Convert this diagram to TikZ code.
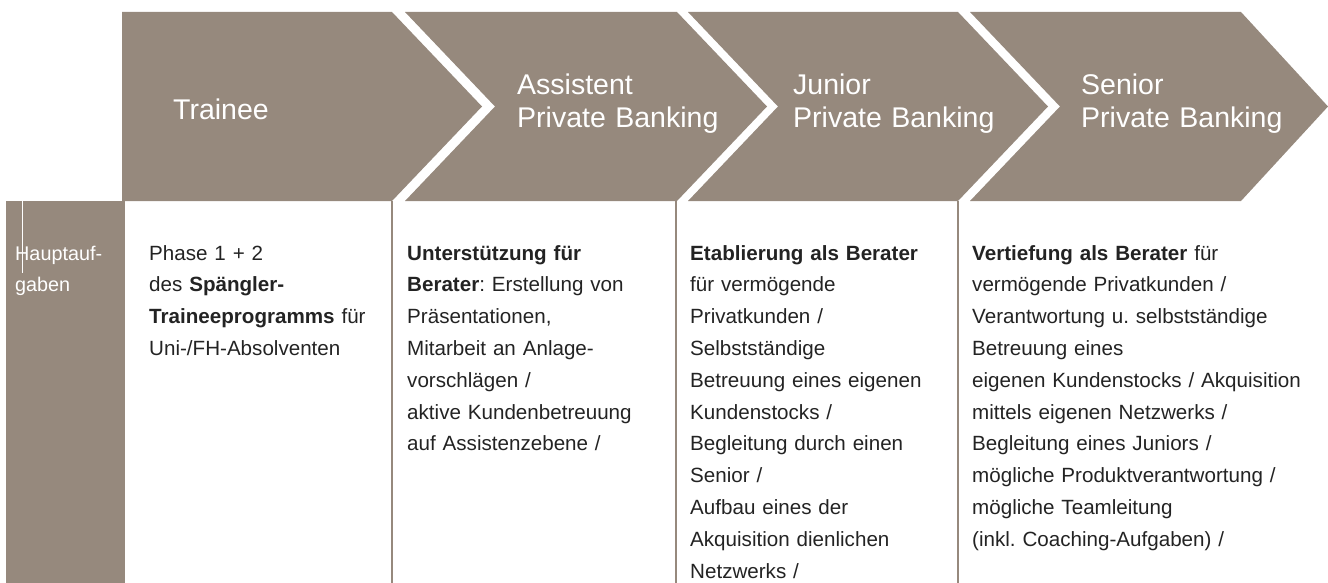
\documentclass[tikz,border=0pt]{standalone}
\usepackage{fontspec}
\setmainfont{Liberation Sans}
\frenchspacing
\definecolor{brn}{RGB}{150,137,125}
\definecolor{txt}{RGB}{35,35,35}
\begin{document}
\begin{tikzpicture}[x=1pt,y=-1pt,
  band/.style={fill=brn},
  vline/.style={draw=brn,line width=1.6pt},
  head/.style={anchor=base west,inner sep=0pt,text=white,align=left,text width=260pt,font=\fontsize{28.5}{33}\selectfont},
  body/.style={anchor=base west,inner sep=0pt,text=txt,align=left,font=\fontsize{20.6}{31.8}\selectfont},
  side/.style={anchor=base west,inner sep=0pt,text=white,align=left,text width=110pt,font=\fontsize{19.8}{31.8}\selectfont}]
\useasboundingbox (0,0) rectangle (1328,583);
% chevron band
\fill[band] (122,12) -- (392,12) -- (482,106.5) -- (392,201) -- (122,201) -- cycle;
\fill[band] (405,12) -- (677,12) -- (767,106.5) -- (677,201) -- (405,201) -- (495,106.5) -- cycle;
\fill[band] (688,12) -- (958,12) -- (1048,106.5) -- (958,201) -- (688,201) -- (778,106.5) -- cycle;
\fill[band] (970,12) -- (1241,12) -- (1328,106.5) -- (1241,201) -- (970,201) -- (1060,106.5) -- cycle;
% left column
\fill[band] (6,201) rectangle (125,583);
\draw[white,line width=0.8pt] (22,201) -- (22,273);
% separators
\coordinate (s1t) at (392,201); \coordinate (s1b) at (392,583);
\coordinate (s2t) at (676,201); \coordinate (s2b) at (676,583);
\coordinate (s3t) at (958,201); \coordinate (s3b) at (958,583);
\draw[vline] (s1t) -- (s1b);
\draw[vline] (s2t) -- (s2b);
\draw[vline] (s3t) -- (s3b);
% headers
\node[head] (h1) at (173,120) {Trainee};
\node[head] (h2) at (517,95) {Assistent\\Private Banking};
\node[head] (h3) at (793,95) {Junior\\Private Banking};
\node[head] (h4) at (1081,95) {Senior\\Private Banking};
% side label
\node[side] (side) at (15,260) {Hauptauf-\\gaben};
% bodies
\node[body,text width=240pt] (c1) at (149,260) {Phase 1 + 2\\des \textbf{Spängler-}\\\textbf{Traineeprogramms} für\\Uni-/FH-Absolventen};
\node[body,text width=255pt] (c2) at (407,260) {\textbf{Unterstützung für}\\\textbf{Berater}: Erstellung von\\Präsentationen,\\Mitarbeit an Anlage-\\vorschlägen /\\aktive Kundenbetreuung\\auf Assistenzebene /};
\node[body,text width=260pt] (c3) at (690,260) {\textbf{Etablierung als Berater}\\für vermögende\\Privatkunden /\\Selbstständige\\Betreuung eines eigenen\\Kundenstocks /\\Begleitung durch einen\\Senior /\\Aufbau eines der\\Akquisition dienlichen\\Netzwerks /};
\node[body,text width=350pt] (c4) at (972,260) {\textbf{Vertiefung als Berater} für\\vermögende Privatkunden /\\Verantwortung u. selbstständige\\Betreuung eines\\eigenen Kundenstocks / Akquisition\\mittels eigenen Netzwerks /\\Begleitung eines Juniors /\\mögliche Produktverantwortung /\\mögliche Teamleitung\\(inkl. Coaching-Aufgaben) /};
\end{tikzpicture}
\end{document}
